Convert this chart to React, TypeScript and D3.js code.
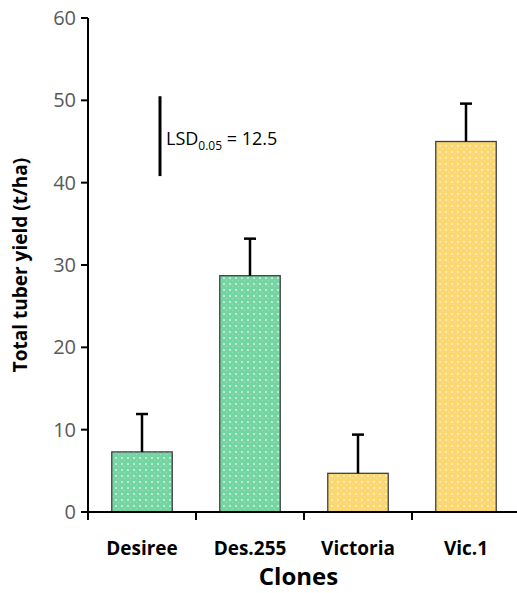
import React, { useEffect, useRef } from "react";
import * as d3 from "d3";

const clones = ["Desiree", "Des.255", "Victoria", "Vic.1"];
const yieldMean = [7.3, 28.7, 4.7, 45.0];
const yieldErr = [4.6, 4.5, 4.7, 4.6];
const groups = ["des", "des", "vic", "vic"];
const yTicks = [0, 10, 20, 30, 40, 50, 60];
const lsdBar = [40.8, 50.5];

function App() {
  const ref = useRef<SVGSVGElement>(null);
  const W = 517, H = 593;
  const margin = { top: 18, right: -3, bottom: 81, left: 88 };

  useEffect(() => {
    const svg = d3.select(ref.current);
    svg.selectAll("*").remove();

    const defs = svg.append("defs");
    const pat = (id: string, base: string, dot: string) => {
      const p = defs.append("pattern")
        .attr("id", id).attr("width", 6).attr("height", 6)
        .attr("patternUnits", "userSpaceOnUse");
      p.append("rect").attr("width", 6).attr("height", 6).attr("fill", base);
      p.append("rect").attr("x", 1).attr("y", 1).attr("width", 2).attr("height", 2).attr("fill", dot);
      p.append("rect").attr("x", 4).attr("y", 4).attr("width", 1).attr("height", 1).attr("fill", dot).attr("opacity", 0.6);
    };
    pat("pDes", "#72d5a2", "#b9ecd0");
    pat("pVic", "#fbd86f", "#fdeab0");

    const x = d3.scaleBand()
      .domain(clones)
      .range([margin.left, W - margin.right])
      .paddingInner(0.44)
      .paddingOuter(0.22);
    const y = d3.scaleLinear().domain([0, 60]).range([H - margin.bottom, margin.top]);

    const g = svg.append("g");
    const font = "'Open Sans', sans-serif";

    // bars
    g.selectAll("rect.bar")
      .data(clones)
      .enter()
      .append("rect")
      .attr("class", "bar")
      .attr("x", d => x(d)!)
      .attr("y", (d, i) => y(yieldMean[i]))
      .attr("width", x.bandwidth())
      .attr("height", (d, i) => y(0) - y(yieldMean[i]))
      .attr("fill", (d, i) => groups[i] === "des" ? "url(#pDes)" : "url(#pVic)")
      .attr("stroke", "#404040")
      .attr("stroke-width", 1.3);

    // error bars (upper only)
    clones.forEach((c, i) => {
      const cx = x(c)! + x.bandwidth() / 2;
      const top = y(yieldMean[i] + yieldErr[i]);
      g.append("line").attr("x1", cx).attr("x2", cx)
        .attr("y1", y(yieldMean[i])).attr("y2", top)
        .attr("stroke", "#000").attr("stroke-width", 2.5);
      g.append("line").attr("x1", cx - 6).attr("x2", cx + 6)
        .attr("y1", top).attr("y2", top)
        .attr("stroke", "#000").attr("stroke-width", 2.5);
    });

    // y axis
    const ya = g.append("g").attr("transform", `translate(${margin.left},0)`);
    ya.append("line").attr("x1", 0).attr("x2", 0).attr("y1", y(60)).attr("y2", y(0))
      .attr("stroke", "#000").attr("stroke-width", 2);
    yTicks.forEach(t => {
      ya.append("line").attr("x1", -7).attr("x2", 0).attr("y1", y(t)).attr("y2", y(t))
        .attr("stroke", "#000").attr("stroke-width", 2);
      ya.append("text").attr("x", -12).attr("y", y(t)).attr("dy", "0.35em")
        .attr("text-anchor", "end").attr("fill", "#595959")
        .style("font-family", font).style("font-size", "20px")
        .text(t);
    });

    // x axis
    const xa = g.append("g").attr("transform", `translate(0,${y(0)})`);
    xa.append("line").attr("x1", margin.left - 7).attr("x2", W).attr("y1", 0).attr("y2", 0)
      .attr("stroke", "#000").attr("stroke-width", 2);
    const step = x.step();
    clones.forEach((c, i) => {
      const tx = margin.left + i * step;
      xa.append("line").attr("x1", tx).attr("x2", tx).attr("y1", 0).attr("y2", 8)
        .attr("stroke", "#000").attr("stroke-width", 2);
      xa.append("text").attr("x", x(c)! + x.bandwidth() / 2).attr("y", 43)
        .attr("text-anchor", "middle").attr("fill", "#000")
        .style("font-family", font).style("font-size", "19px")
        .style("font-weight", "bold")
        .text(c);
    });

    // axis titles
    svg.append("text")
      .attr("transform", `translate(27,${(y(0) + y(60)) / 2}) rotate(-90)`)
      .attr("text-anchor", "middle")
      .style("font-family", font).style("font-size", "19px")
      .style("font-weight", "bold")
      .text("Total tuber yield (t/ha)");
    svg.append("text")
      .attr("x", (margin.left + W) / 2 - 4).attr("y", 585)
      .attr("text-anchor", "middle")
      .style("font-family", font).style("font-size", "24px")
      .style("font-weight", "bold")
      .text("Clones");

    // LSD marker
    g.append("line").attr("x1", 160).attr("x2", 160)
      .attr("y1", y(lsdBar[0])).attr("y2", y(lsdBar[1]))
      .attr("stroke", "#000").attr("stroke-width", 3);
    const lsd = g.append("text").attr("x", 166).attr("y", 145)
      .style("font-family", font).style("font-size", "18px").attr("fill", "#000");
    lsd.append("tspan").text("LSD");
    lsd.append("tspan").attr("dy", 5).style("font-size", "12px").text("0.05");
    lsd.append("tspan").attr("dy", -5).text(" = 12.5");
  }, []);

  return <svg ref={ref} width={W} height={H} style={{ position: "absolute", left: 0, top: 0 }} />;
}

export default App;
